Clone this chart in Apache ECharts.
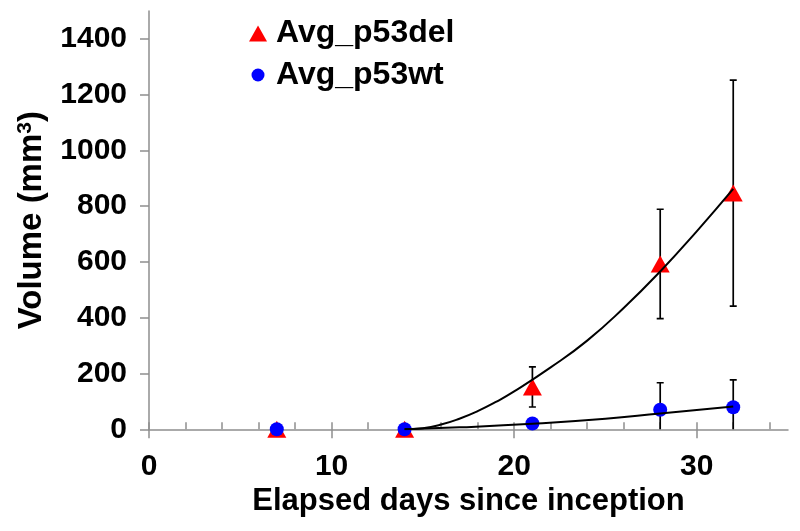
<!DOCTYPE html>
<html>
<head>
<meta charset="utf-8">
<script src="https://cdn.jsdelivr.net/npm/echarts@6/dist/echarts.min.js"></script>
<style>
html,body{margin:0;padding:0;background:#fff;}
#chart{width:800px;height:531px;}
</style>
</head>
<body>
<div id="chart"></div>
<script>
// ---- data ----
const xDays = [7, 14, 21, 28, 32];
const delMean = [0, 0, 152, 593, 847];
const delErr = [0, 0, 72, 196, 405];
const wtMean = [0, 0, 21, 70, 79];
const wtErr = [0, 0, 0, 97, 98];
const delTrendX = [14, 15, 16, 17, 18, 19, 20, 22, 24, 26, 28, 30, 32];
const delTrendY = [0, 4, 17, 38, 65, 98, 136, 222, 318, 435, 566, 710, 862];
const wtTrendX = [14, 17, 21, 25, 28, 32];
const wtTrendY = [0, 7, 20, 38, 57, 82];
const xTickLabels = [0, 10, 20, 30];
const xMinorTicks = [0, 2, 4, 6, 8, 10, 12, 14, 16, 18, 20, 22, 24, 26, 28, 30, 32, 34];
const yTickLabels = [0, 200, 400, 600, 800, 1000, 1200, 1400];
const seriesNames = ['Avg_p53del', 'Avg_p53wt'];

const FONT = '"Liberation Sans", Arial, Helvetica, sans-serif';
const AXIS_GREY = '#8e8e8e';

function zip(xs, ys) { return xs.map((x, i) => [x, ys[i]]); }
function errData(xs, m, e) { return xs.map((x, i) => [x, m[i] - e[i], m[i] + e[i], e[i]]); }

function renderErr(params, api) {
  if (api.value(3) <= 0) return null;
  const x = api.value(0);
  const lo = api.coord([x, api.value(1)]);
  const hi = api.coord([x, api.value(2)]);
  const hw = 3.5;
  const st = { stroke: '#000', lineWidth: 1.7 };
  return {
    type: 'group',
    children: [
      { type: 'line', shape: { x1: lo[0], y1: lo[1], x2: hi[0], y2: hi[1] }, style: st },
      { type: 'line', shape: { x1: hi[0] - hw, y1: hi[1], x2: hi[0] + hw, y2: hi[1] }, style: st },
      { type: 'line', shape: { x1: lo[0] - hw, y1: lo[1], x2: lo[0] + hw, y2: lo[1] }, style: st }
    ]
  };
}

const chart = echarts.init(document.getElementById('chart'), null, { renderer: 'canvas' });
chart.setOption({
  backgroundColor: '#fff',
  animation: false,
  textStyle: { fontFamily: FONT },
  grid: { left: 149, right: 12, top: 11, bottom: 101.7, containLabel: false, outerBoundsMode: 'none' },
  legend: [
    {
      data: [seriesNames[0]], orient: 'vertical', left: 249, top: 17.5, padding: 0,
      itemWidth: 18, itemHeight: 16,
      textStyle: { fontFamily: FONT, fontSize: 32, fontWeight: 'bold', color: '#000', padding: [0, 0, 0, 4] }
    },
    {
      data: [seriesNames[1]], orient: 'vertical', left: 251.5, top: 59, padding: 0,
      itemWidth: 13, itemHeight: 13,
      textStyle: { fontFamily: FONT, fontSize: 32, fontWeight: 'bold', color: '#000', padding: [0, 0, 0, 6.5] }
    }
  ],
  xAxis: [
    {
      type: 'value', min: 0, max: 35, interval: 10,
      name: 'Elapsed days since inception', nameLocation: 'middle', nameGap: 57,
      nameTextStyle: { fontFamily: FONT, fontSize: 31, fontWeight: 'bold', color: '#000' },
      axisLine: { show: true, onZero: false, lineStyle: { color: AXIS_GREY, width: 1.5 } },
      axisTick: { show: true, inside: false, length: 9, customValues: xTickLabels, lineStyle: { color: AXIS_GREY, width: 1.5 } },
      axisLabel: { show: true, customValues: xTickLabels, margin: 22, fontFamily: FONT, fontSize: 30, fontWeight: 'bold', color: '#000' },
      splitLine: { show: false }
    },
    {
      type: 'value', min: 0, max: 35, position: 'bottom', interval: 2,
      axisLine: { show: false },
      axisTick: { show: true, inside: true, length: 7, customValues: xMinorTicks, lineStyle: { color: AXIS_GREY, width: 1.5 } },
      axisLabel: { show: false },
      splitLine: { show: false }
    }
  ],
  yAxis: {
    type: 'value', min: 0, max: 1500, interval: 100,
    name: 'Volume (mm{sup|3})', nameLocation: 'middle', nameGap: 101,
    nameTextStyle: {
      fontFamily: FONT, fontSize: 33, fontWeight: 'bold', color: '#000',
      rich: { sup: { fontFamily: FONT, fontSize: 21, fontWeight: 'bold', color: '#000', verticalAlign: 'top', padding: [0, 0, 10, 0] } }
    },
    axisLine: { show: true, lineStyle: { color: AXIS_GREY, width: 1.5 } },
    axisTick: { show: true, inside: false, length: 9, customValues: yTickLabels, lineStyle: { color: AXIS_GREY, width: 1.5 } },
    axisLabel: { show: true, customValues: yTickLabels, formatter: (v) => String(v), margin: 22, fontFamily: FONT, fontSize: 30, fontWeight: 'bold', color: '#000' },
    splitLine: { show: false }
  },
  series: [
    {
      type: 'custom', name: 'err_del', renderItem: renderErr, clip: true, z: 2,
      data: errData(xDays, delMean, delErr), encode: { x: 0, y: [1, 2] }, silent: true
    },
    {
      type: 'custom', name: 'err_wt', renderItem: renderErr, clip: true, z: 2,
      data: errData(xDays, wtMean, wtErr), encode: { x: 0, y: [1, 2] }, silent: true
    },
    {
      type: 'scatter', name: seriesNames[0], symbol: 'triangle', symbolSize: [19, 17], z: 3,
      itemStyle: { color: '#ff0000', opacity: 1 }, data: zip(xDays, delMean), clip: false
    },
    {
      type: 'scatter', name: seriesNames[1], symbol: 'circle', symbolSize: 14, z: 4,
      itemStyle: { color: '#0000ff', opacity: 1 }, data: zip(xDays, wtMean), clip: false
    },
    {
      type: 'line', name: 'trend_del', data: zip(delTrendX, delTrendY), smooth: 0.5,
      showSymbol: false, symbol: 'none', z: 5, lineStyle: { color: '#000', width: 2 }, itemStyle: { color: '#000' }
    },
    {
      type: 'line', name: 'trend_wt', data: zip(wtTrendX, wtTrendY), smooth: 0.5,
      showSymbol: false, symbol: 'none', z: 5, lineStyle: { color: '#000', width: 2 }, itemStyle: { color: '#000' }
    }
  ]
});
</script>
</body>
</html>
